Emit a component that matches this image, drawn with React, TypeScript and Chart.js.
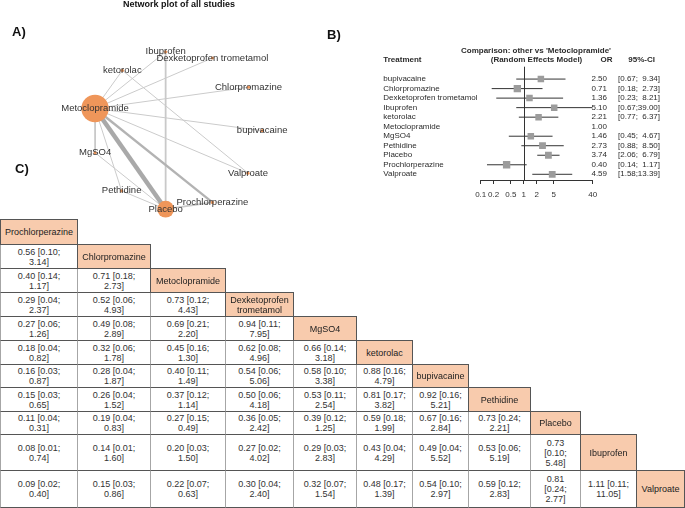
import React, { useEffect, useRef } from "react";
import { Chart, registerables } from "chart.js";

Chart.register(...registerables);

const FONT = '"Liberation Sans", Arial, Helvetica, sans-serif';

// ---------- A) network plot ----------
const nodeNames = [
  "Metoclopramide",
  "Placebo",
  "Ibuprofen",
  "Dexketoprofen trometamol",
  "ketorolac",
  "Chlorpromazine",
  "bupivacaine",
  "MgSO4",
  "Valproate",
  "Pethidine",
  "Prochlorperazine",
];
// layout coordinates of the network (x to the right, y downwards)
const nodeLayoutX = [88.7, 165.7, 165.7, 216.7, 118.5, 256, 271, 88.8, 255.5, 117.7, 216.7];
const nodeLayoutY = [107, 220.7, 43, 50, 64, 83, 132, 157, 180, 200, 213];
const nodeSize = [13.7, 8.4, 1.6, 1.6, 1.6, 1.6, 1.6, 1.6, 1.6, 1.6, 1.6];
const edgeFrom = [0, 0, 1, 2, 0, 0, 0, 0, 0, 0, 0, 0, 4, 7, 9];
const edgeTo = [1, 10, 10, 1, 7, 4, 2, 3, 5, 6, 8, 9, 8, 1, 1];
const edgeStudies = [5, 3, 2, 2, 2, 1, 1, 1, 1, 1, 1, 1, 1, 1, 1];

// ---------- B) forest plot ----------
const forestTreatments = [
  "bupivacaine",
  "Chlorpromazine",
  "Dexketoprofen trometamol",
  "Ibuprofen",
  "ketorolac",
  "Metoclopramide",
  "MgSO4",
  "Pethidine",
  "Placebo",
  "Prochlorperazine",
  "Valproate",
];
const forestOR = [2.5, 0.71, 1.36, 5.1, 2.21, 1.0, 1.46, 2.73, 3.74, 0.4, 4.59];
const forestLower = [0.67, 0.18, 0.23, 0.67, 0.77, null, 0.45, 0.88, 2.06, 0.14, 1.58];
const forestUpper = [9.34, 2.73, 8.21, 39.0, 6.37, null, 4.67, 8.5, 6.79, 1.17, 13.39];
const forestWeight = [4.6, 5.2, 4.6, 4.6, 4.6, 0, 4.6, 4.8, 4.8, 5.2, 4.8];
const forestTicks = [0.1, 0.2, 0.5, 1, 2, 5, 40];

// ---------- C) league table ----------
const leagueTreatments = [
  "Prochlorperazine",
  "Chlorpromazine",
  "Metoclopramide",
  "Dexketoprofen\ntrometamol",
  "MgSO4",
  "ketorolac",
  "bupivacaine",
  "Pethidine",
  "Placebo",
  "Ibuprofen",
  "Valproate",
];
const leagueRows: string[][] = [
  [],
  ["0.56 [0.10; 3.14]"],
  ["0.40 [0.14; 1.17]", "0.71 [0.18; 2.73]"],
  ["0.29 [0.04; 2.37]", "0.52 [0.06; 4.93]", "0.73 [0.12; 4.43]"],
  ["0.27 [0.06; 1.26]", "0.49 [0.08; 2.89]", "0.69 [0.21; 2.20]", "0.94 [0.11; 7.95]"],
  ["0.18 [0.04; 0.82]", "0.32 [0.06; 1.78]", "0.45 [0.16; 1.30]", "0.62 [0.08; 4.96]", "0.66 [0.14; 3.18]"],
  ["0.16 [0.03; 0.87]", "0.28 [0.04; 1.87]", "0.40 [0.11; 1.49]", "0.54 [0.06; 5.06]", "0.58 [0.10; 3.38]", "0.88 [0.16; 4.79]"],
  ["0.15 [0.03; 0.65]", "0.26 [0.04; 1.52]", "0.37 [0.12; 1.14]", "0.50 [0.06; 4.18]", "0.53 [0.11; 2.54]", "0.81 [0.17; 3.82]", "0.92 [0.16; 5.21]"],
  ["0.11 [0.04; 0.31]", "0.19 [0.04; 0.83]", "0.27 [0.15; 0.49]", "0.36 [0.05; 2.42]", "0.39 [0.12; 1.25]", "0.59 [0.18; 1.99]", "0.67 [0.16; 2.84]", "0.73 [0.24; 2.21]"],
  ["0.08 [0.01; 0.74]", "0.14 [0.01; 1.60]", "0.20 [0.03; 1.50]", "0.27 [0.02; 4.02]", "0.29 [0.03; 2.83]", "0.43 [0.04; 4.29]", "0.49 [0.04; 5.52]", "0.53 [0.06; 5.19]", "0.73 [0.10; 5.48]"],
  ["0.09 [0.02; 0.40]", "0.15 [0.03; 0.86]", "0.22 [0.07; 0.63]", "0.30 [0.04; 2.40]", "0.32 [0.07; 1.54]", "0.48 [0.17; 1.39]", "0.54 [0.10; 2.97]", "0.59 [0.12; 2.83]", "0.81 [0.24; 2.77]", "1.11 [0.11; 11.05]"],
];
const colEdges = [0, 77, 150, 225, 293, 356, 412, 468, 530, 580, 636, 684];
const rowEdges = [219, 244, 268, 292, 316, 340, 364, 387, 411, 434, 470, 507];

function edgeColor(n: number) {
  if (n >= 5) return "#a9a9a9";
  if (n >= 3) return "#b3b3b3";
  if (n >= 2) return "#c9c9c9";
  return "#cbcbcb";
}

const netLabelPlugin = {
  id: "netLabels",
  afterDatasetsDraw(chart: any) {
    const { ctx, scales } = chart;
    ctx.save();
    ctx.font = `9.5px ${FONT}`;
    ctx.fillStyle = "#333";
    ctx.textAlign = "center";
    ctx.textBaseline = "middle";
    nodeNames.forEach((n, i) => {
      ctx.fillText(n, scales.x.getPixelForValue(nodeLayoutX[i]), scales.y.getPixelForValue(nodeLayoutY[i]));
    });
    ctx.restore();
  },
};

const forestPlugin = {
  id: "forestText",
  beforeDatasetsDraw(chart: any) {
    const { ctx, scales, chartArea } = chart;
    const px = Math.round(scales.x.getPixelForValue(1)) + 0.5;
    ctx.save();
    ctx.strokeStyle = "#333";
    ctx.lineWidth = 1;
    ctx.beginPath();
    ctx.moveTo(px, chartArea.top);
    ctx.lineTo(px, chartArea.bottom);
    ctx.stroke();
    ctx.restore();
  },
  afterDraw(chart: any) {
    const { ctx, scales } = chart;
    const y = scales.y;
    ctx.save();
    ctx.fillStyle = "#2b2b2b";
    ctx.textBaseline = "middle";
    ctx.font = `bold 8px ${FONT}`;
    ctx.textAlign = "center";
    ctx.fillText("Comparison: other vs 'Metoclopramide'", 206, y.getPixelForValue(-2.97));
    ctx.fillText("(Random Effects Model)", 206.5, y.getPixelForValue(-2));
    ctx.textAlign = "left";
    ctx.fillText("Treatment", 53.3, y.getPixelForValue(-2));
    ctx.textAlign = "right";
    ctx.fillText("OR", 282.5, y.getPixelForValue(-2));
    ctx.fillText("95%-CI", 325, y.getPixelForValue(-2));
    ctx.font = `8px ${FONT}`;
    forestTreatments.forEach((t, i) => {
      const py = y.getPixelForValue(i);
      ctx.textAlign = "left";
      ctx.fillText(t, 53.3, py);
      ctx.textAlign = "right";
      ctx.fillText(forestOR[i].toFixed(2), 277, py);
      const lo = forestLower[i];
      const hi = forestUpper[i];
      if (lo != null && hi != null) {
        ctx.textAlign = "left";
        ctx.fillText(`[${lo.toFixed(2)};`, 288, py);
        ctx.textAlign = "right";
        ctx.fillText(`${hi.toFixed(2)}]`, 330, py);
      }
    });
    ctx.restore();
  },
};

function cellLines(text: string, width: number): string[] {
  const [or, rest] = text.split(" [");
  const [lo, hi] = rest.split("; ");
  if (width < 55) return [or, `[${lo};`, hi];
  return [`${or} [${lo};`, hi];
}

export default function App() {
  const netRef = useRef<HTMLCanvasElement>(null);
  const forestRef = useRef<HTMLCanvasElement>(null);

  useEffect(() => {
    const charts: Chart[] = [];
    if (netRef.current) {
      const edgeSets = edgeFrom.map((f, k) => ({
        data: [
          { x: nodeLayoutX[f], y: nodeLayoutY[f] },
          { x: nodeLayoutX[edgeTo[k]], y: nodeLayoutY[edgeTo[k]] },
        ],
        showLine: true,
        borderColor: edgeColor(edgeStudies[k]),
        borderWidth: edgeStudies[k] >= 5 ? 4.5 : edgeStudies[k] >= 3 ? 2.3 : edgeStudies[k] >= 2 ? 1.8 : 1,
        pointRadius: 0,
        order: 1,
      }));
      charts.push(
        new Chart(netRef.current, {
          type: "scatter",
          data: {
            datasets: [
              {
                data: nodeNames.map((_, i) => ({ x: nodeLayoutX[i], y: nodeLayoutY[i] })),
                pointRadius: nodeSize,
                pointBackgroundColor: "#EF965A",
                pointBorderWidth: 0,
                showLine: false,
                order: 0,
              } as any,
              ...edgeSets,
            ],
          },
          options: {
            animation: false,
            responsive: false,
            events: [],
            layout: { padding: 0 },
            plugins: { legend: { display: false }, tooltip: { enabled: false } },
            scales: {
              x: { type: "linear", min: 0, max: 330, display: false },
              y: { type: "linear", min: 0, max: 240, reverse: true, display: false },
            },
          },
          plugins: [netLabelPlugin],
        })
      );
    }
    if (forestRef.current) {
      const ciSets = forestTreatments
        .map((_, i) => i)
        .filter((i) => forestLower[i] != null)
        .map((i) => ({
          data: [
            { x: forestLower[i] as number, y: i },
            { x: forestUpper[i] as number, y: i },
          ],
          showLine: true,
          borderColor: "#333",
          borderWidth: 1,
          pointRadius: 0,
          order: 1,
        }));
      const sqIdx = forestTreatments.map((_, i) => i).filter((i) => forestLower[i] != null);
      charts.push(
        new Chart(forestRef.current, {
          type: "scatter",
          data: {
            datasets: [
              {
                data: sqIdx.map((i) => ({ x: forestOR[i], y: i })),
                pointStyle: "rect",
                pointRadius: sqIdx.map((i) => forestWeight[i]),
                pointBackgroundColor: "#9c9c9c",
                pointBorderColor: "#9c9c9c",
                pointBorderWidth: 0,
                showLine: false,
                order: 0,
              } as any,
              ...ciSets,
            ],
          },
          options: {
            animation: false,
            responsive: false,
            events: [],
            layout: { padding: { left: 150.7, right: 92.3, top: 26.7, bottom: 4.4 } },
            plugins: { legend: { display: false }, tooltip: { enabled: false } },
            scales: {
              x: {
                type: "logarithmic",
                min: 0.1,
                max: 40,
                afterBuildTicks: (s: any) => {
                  s.ticks = forestTicks.map((v) => ({ value: v }));
                },
                ticks: {
                  autoSkip: false,
                  maxRotation: 0,
                  padding: 6,
                  color: "#333",
                  font: { size: 8, family: FONT },
                  callback: (v: any) => String(v),
                },
                grid: { drawOnChartArea: false, drawTicks: true, tickLength: 4, color: "#333" },
                border: { display: true, color: "#333", width: 1 },
              },
              y: { type: "linear", min: -1.3, max: 10.6, reverse: true, display: false },
            },
          },
          plugins: [forestPlugin],
        })
      );
    }
    return () => charts.forEach((c) => c.destroy());
  }, []);

  const cells: React.ReactNode[] = [];
  leagueTreatments.forEach((name, r) => {
    leagueRows[r].forEach((txt, c) => {
      const w = colEdges[c + 1] - colEdges[c];
      const lines = cellLines(txt, w);
      cells.push(
        <div
          key={`d${r}-${c}`}
          style={{
            position: "absolute",
            left: colEdges[c],
            top: rowEdges[r],
            width: w + 1,
            height: rowEdges[r + 1] - rowEdges[r] + 1,
            boxSizing: "border-box",
            borderTop: "1px solid #555",
            borderBottom: "1px solid #555",
            borderLeft: "1px solid #a6a6a6",
            borderRight: "1px solid #a6a6a6",
            background: "#fff",
            display: "flex",
            flexDirection: "column",
            alignItems: "center",
            justifyContent: "center",
            fontSize: 9,
            lineHeight: "10px",
            color: "#333",
            textAlign: "center",
            whiteSpace: "nowrap",
          }}
        >
          {lines.map((l, k) => (
            <span key={k}>{l}</span>
          ))}
        </div>
      );
    });
  });
  leagueTreatments.forEach((name, r) => {
    const c = r;
    cells.push(
      <div
        key={`h${r}`}
        style={{
          position: "absolute",
          left: colEdges[c],
          top: rowEdges[r],
          width: colEdges[c + 1] - colEdges[c] + 1,
          height: rowEdges[r + 1] - rowEdges[r] + 1,
          boxSizing: "border-box",
          border: "1px solid #555",
          background: "#F8CBAD",
          display: "flex",
          flexDirection: "column",
          alignItems: "center",
          justifyContent: "center",
          fontSize: 9,
          lineHeight: "10px",
          color: "#222",
          textAlign: "center",
          whiteSpace: "nowrap",
          zIndex: 2,
        }}
      >
        {name.split("\n").map((l, k) => (
          <span key={k}>{l}</span>
        ))}
      </div>
    );
  });

  const panel = (t: string, left: number, top: number) => (
    <div
      style={{
        position: "absolute",
        left,
        top,
        fontSize: 13,
        lineHeight: "14px",
        fontWeight: "bold",
        color: "#111",
      }}
    >
      {t}
    </div>
  );

  return (
    <div
      style={{
        position: "fixed",
        left: 0,
        top: 0,
        width: 685,
        height: 508,
        overflow: "hidden",
        background: "#fff",
        fontFamily: FONT,
      }}
    >
      <canvas ref={netRef} width={330} height={240} style={{ position: "absolute", left: 0, top: 0 }} />
      <canvas ref={forestRef} width={355} height={170} style={{ position: "absolute", left: 330, top: 40 }} />
      <div
        style={{
          position: "absolute",
          left: 99,
          top: 0,
          width: 160,
          textAlign: "center",
          fontSize: 9,
          lineHeight: "9px",
          fontWeight: "bold",
          color: "#111",
        }}
      >
        Network plot of all studies
      </div>
      {panel("A)", 12, 25)}
      {panel("B)", 327, 28)}
      {panel("C)", 15, 162)}
      {cells}
    </div>
  );
}
